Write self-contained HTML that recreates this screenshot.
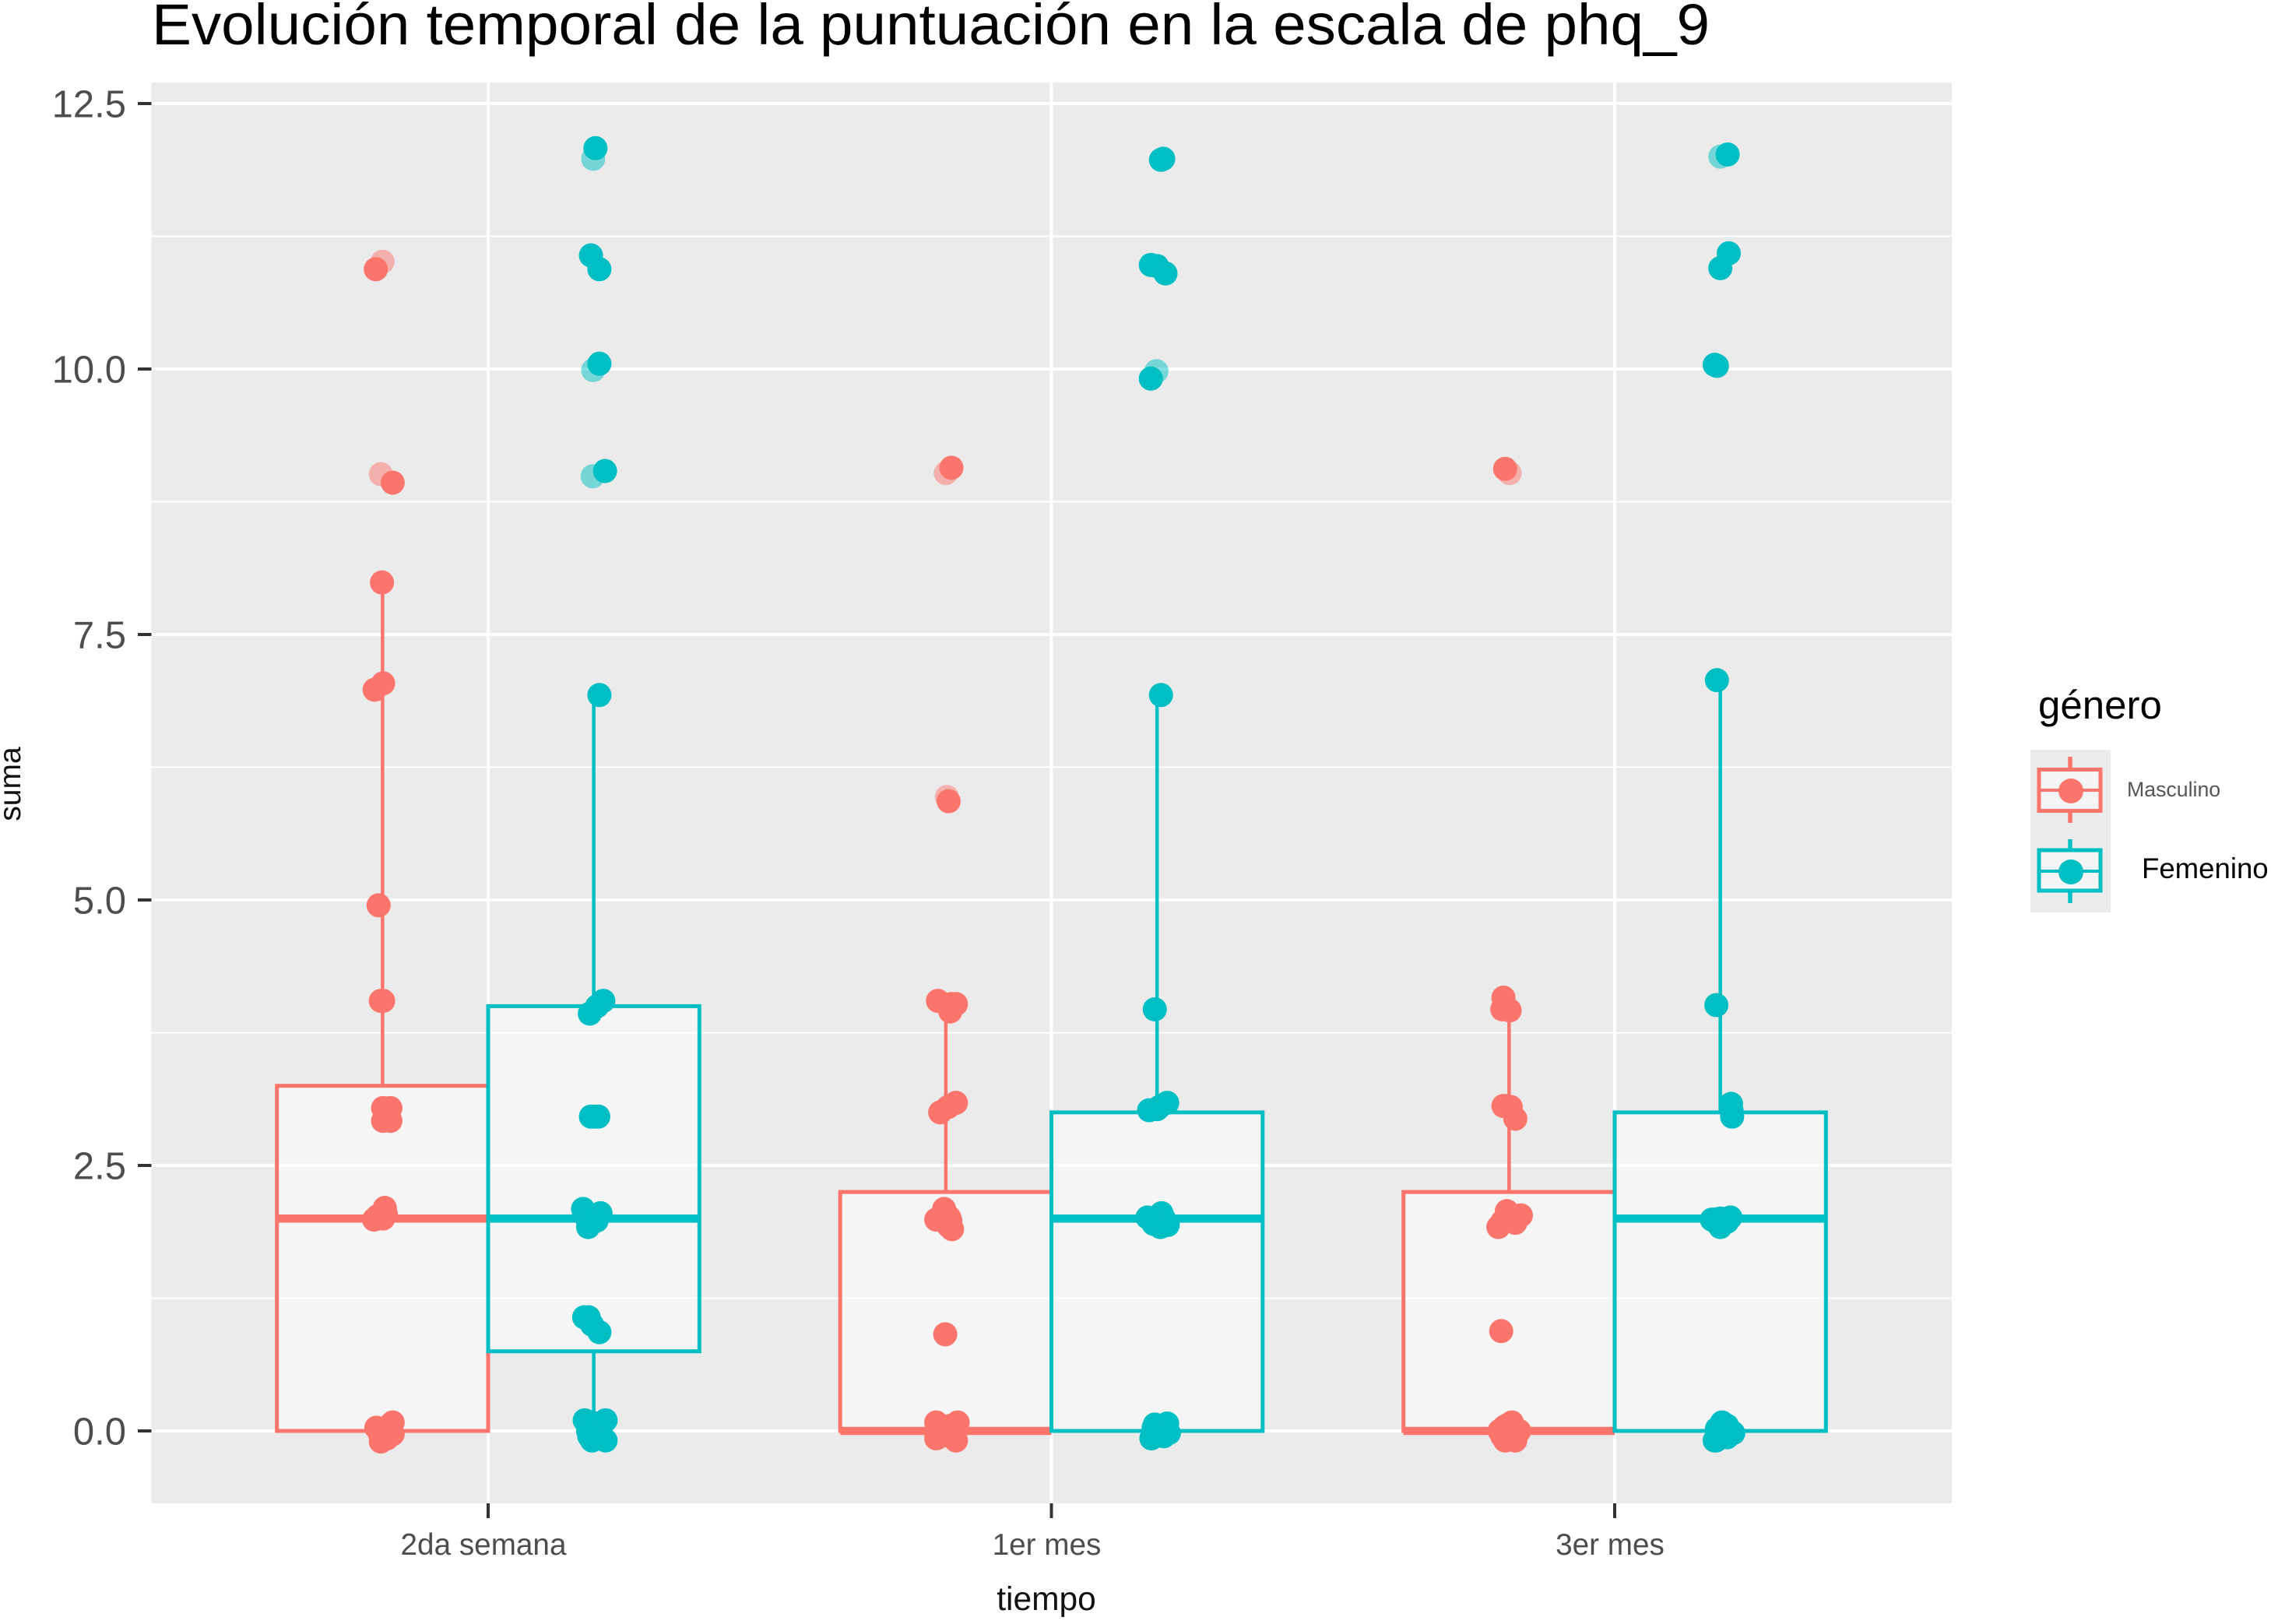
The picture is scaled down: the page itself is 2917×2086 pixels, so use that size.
<!DOCTYPE html>
<html lang="es">
<head>
<meta charset="utf-8">
<title>Evolución temporal de la puntuación en la escala de phq_9</title>
<style>
html,body{margin:0;padding:0;background:#fff;}
svg{display:block;font-family:"Liberation Sans",Arial,sans-serif;}
</style>
</head>
<body>
<svg id="chart" xmlns="http://www.w3.org/2000/svg" width="2917" height="2086" viewBox="0 0 2917 2086">
  <rect x="0" y="0" width="2917" height="2086" fill="#ffffff"/>
  <text x="195" y="57" font-size="74" textLength="2001" lengthAdjust="spacingAndGlyphs" fill="#000">Evolución temporal de la puntuación en la escala de phq_9</text>
  <rect x="194.5" y="106" width="2312.5" height="1825" fill="#ebebeb"/>
  <g id="grid"></g>
  <g id="axes"></g>
  <g id="boxes"></g>
  <g id="points"></g>
  <text x="1344" y="2068" font-size="42.5" text-anchor="middle" fill="#111">tiempo</text>
  <text transform="translate(26,1007) rotate(-90)" font-size="39" text-anchor="middle" fill="#111">suma</text>

  <g>
    <text x="2618" y="923" font-size="51" fill="#000">género</text>
    <rect x="2608" y="963" width="103" height="209" fill="#ebebeb"/>
    <g>
      <line x1="2659" x2="2659" y1="972" y2="1057" stroke="#fb756d" stroke-width="5.5"/>
      <rect x="2619" y="988.5" width="79" height="53" fill="#f5f5f5" stroke="#fb756d" stroke-width="5"/>
      <line x1="2619" x2="2698" y1="1015" y2="1015" stroke="#fb756d" stroke-width="4"/>
      <circle cx="2660" cy="1016" r="16" fill="#fb756d"/>
      <text x="2732" y="1023" font-size="26.7" fill="#555">Masculino</text>
    </g>
    <g>
      <line x1="2659" x2="2659" y1="1078" y2="1160" stroke="#00bfc4" stroke-width="5.5"/>
      <rect x="2619" y="1092" width="79" height="52" fill="#f5f5f5" stroke="#00bfc4" stroke-width="5"/>
      <line x1="2619" x2="2698" y1="1119" y2="1119" stroke="#00bfc4" stroke-width="4"/>
      <circle cx="2660" cy="1120" r="16" fill="#00bfc4"/>
      <text x="2751" y="1128" font-size="36.6" fill="#000">Femenino</text>
    </g>
  </g>
</svg>
<script>
const categories = ['2da semana', '1er mes', '3er mes'];
const yMajorTicks = [0, 2.5, 5, 7.5, 10, 12.5];
const yTickLabels = ['0.0', '2.5', '5.0', '7.5', '10.0', '12.5'];
const yMinorTicks = [1.25, 3.75, 6.25, 8.75, 11.25];

const q1Masculino = [0, 0, 0];
const medianMasculino = [2, 0, 0];
const q3Masculino = [3.25, 2.25, 2.25];
const whiskerLowMasculino = [0, 0, 0];
const whiskerHighMasculino = [8, 4, 4];

const q1Femenino = [0.75, 0, 0];
const medianFemenino = [2, 2, 2];
const q3Femenino = [4, 3, 3];
const whiskerLowFemenino = [0, 0, 0];
const whiskerHighFemenino = [7, 7, 7];

const sumaMasculino = [
  [10.94, 8.93, 7.99, 6.98, 7.04, 4.95, 4.05, 4.05, 3.04, 3.04, 2.92, 2.92, 1.99, 2.04, 2.10, 2.00, 0.08, 0.03, -0.10, -0.03, 0.02, 2.98, 2.03, 2.04, 2.02, 0, -0.04, -0.07, 0.05],
  [9.07, 5.93, 4.05, 4.02, 3.95, 3.09, 3.00, 2.09, 1.99, 1.90, 2.01, 0.91, 0.08, 0.08, -0.07, -0.09, 0, 4.00, 4.02, 2.00, 2.02, 1.98, 1.93, 0.04, -0.04, 0, 0, 0.05, -0.05, 0.05, -0.05, 3.05],
  [9.06, 4.08, 3.97, 3.96, 3.06, 3.05, 2.94, 2.07, 2.03, 1.92, 1.96, 0.94, 0.06, 0, 0, -0.09, -0.09, 3.06, 1.98, 2.00, 2.00, 1.97, 0, 0.04, 0.04, -0.05, -0.05, -0.05, 0.08]
];
const jitterMasculino = [
  [-0.012, 0.018, -0.001, -0.014, 0.001, -0.007, -0.003, 0.001, 0.001, 0.014, 0.001, 0.014, -0.015, -0.003, 0.004, 0.001, 0.018, -0.011, -0.003, 0.018, 0.004, 0.007, -0.006, 0.006, -0.009, 0.008, -0.004, 0.008, 0.012],
  [0.010, 0.005, -0.014, 0.018, 0.008, 0.018, -0.010, -0.003, -0.017, 0.011, 0.006, -0.001, -0.017, 0.021, -0.017, 0.018, 0.002, 0.005, 0.010, 0, -0.008, 0.008, 0.005, 0, 0, 0.012, -0.010, 0.010, 0.010, -0.010, -0.010, 0.004],
  [-0.007, -0.010, -0.012, 0.001, -0.010, 0.003, 0.011, -0.004, 0.021, -0.019, 0.011, -0.014, -0.001, -0.017, 0.018, 0.011, -0.007, -0.004, -0.005, 0.005, 0.012, -0.012, 0.003, 0.008, -0.008, 0.003, 0.012, -0.012, 0.005]
];
const faintSumaMasculino = [[11.01, 9.01], [9.02, 5.97], [9.02]];
const faintJitterMasculino = [[0, -0.003], [0, 0.002], [0.001]];

const sumaFemenino = [
  [12.08, 11.07, 10.94, 10.05, 9.04, 6.93, 4.05, 3.93, 4.00, 2.96, 2.96, 2.09, 2.05, 1.92, 2.03, 1.07, 1.07, 0.93, 0.10, 0.10, -0.09, -0.09, 0.02, 2.00, 2.00, 1.98, 1.95, 0, 0, 0.07, -0.07, -0.05, 1.00, 2.96],
  [11.97, 11.98, 10.98, 10.97, 10.90, 9.91, 6.93, 3.97, 3.09, 3.02, 2.01, 2.05, 1.94, 1.92, 0.07, -0.07, 0.06, -0.02, 3.03, 3.05, 1.98, 2.00, 1.95, 1.97, 2.00, 0, 0.04, 0.03, -0.05, -0.05],
  [12.02, 11.09, 10.95, 10.04, 10.03, 7.07, 4.01, 3.08, 2.96, 1.99, 1.99, 2.01, 1.92, 0.08, -0.02, -0.09, -0.04, 3.02, 2.00, 1.98, 1.97, 1.96, 0.02, 0.05, -0.05, 0.02, -0.06, -0.09]
];
const jitterFemenino = [
  [0.003, -0.005, 0.010, 0.010, 0.020, 0.010, 0.017, -0.007, 0.006, -0.005, 0.008, -0.019, 0.012, -0.010, -0.007, -0.017, -0.009, 0.010, -0.016, 0.021, -0.003, 0.021, 0.002, 0, -0.012, 0.005, -0.005, 0.010, -0.010, 0.005, 0.005, -0.008, -0.003, 0.001],
  [0.007, 0.011, -0.011, 0, 0.015, -0.011, 0.007, -0.004, 0.018, -0.014, -0.017, 0.008, 0.019, 0.006, 0.018, -0.010, -0.004, 0.021, 0, 0.004, 0, 0.012, -0.006, 0.010, -0.010, 0.005, 0.012, -0.006, 0.012, -0.008],
  [0.013, 0.015, 0, -0.010, -0.006, -0.006, -0.007, 0.019, 0.021, -0.015, -0.010, 0.018, 0, 0.003, 0.023, -0.010, 0.008, 0.020, 0, 0.006, 0.012, -0.006, 0.008, 0.012, 0, -0.006, 0.012, -0.008]
];
const faintSumaFemenino = [[11.98, 9.99, 8.99], [9.98], [12.00]];
const faintJitterFemenino = [[-0.001, -0.001, -0.002], [-0.001], [0]];

const COLOR_M = '#fb756d';
const COLOR_F = '#00bfc4';
const NS = 'http://www.w3.org/2000/svg';
const xScale = function (v) { return 627 + 723.5 * v; };
const yScale = function (v) { return 1838 - 136.4 * v; };
const PANEL = { left: 194.5, right: 2507, top: 106, bottom: 1931 };
const DODGE = 0.1875;
const HALF_BOX = 0.1875;

function mk(parent, tag, attrs, text) {
  const el = document.createElementNS(NS, tag);
  Object.keys(attrs).forEach(function (k) { el.setAttribute(k, attrs[k]); });
  if (text !== undefined) el.textContent = text;
  parent.appendChild(el);
  return el;
}

const grid = document.getElementById('grid');
const axes = document.getElementById('axes');
const boxes = document.getElementById('boxes');
const pointsLayer = document.getElementById('points');

yMinorTicks.forEach(function (v) {
  const el = mk(grid, 'line', { x1: PANEL.left, x2: PANEL.right, y1: yScale(v), y2: yScale(v), stroke: '#fff', 'stroke-width': 2 });
  
  
});
yMajorTicks.forEach(function (v, i) {
  const line = mk(grid, 'line', { x1: PANEL.left, x2: PANEL.right, y1: yScale(v), y2: yScale(v), stroke: '#fff', 'stroke-width': 4 });
  
  
  const tick = mk(axes, 'line', { x1: 177, x2: PANEL.left, y1: yScale(v), y2: yScale(v), stroke: '#333', 'stroke-width': 4 });
  
  
  const label = mk(axes, 'text', { x: 162, y: yScale(v) + 17.5, 'font-size': 49, 'text-anchor': 'end', fill: '#4d4d4d' }, yTickLabels[i]);
  
  
});
categories.forEach(function (c, i) {
  const line = mk(grid, 'line', { x1: xScale(i), x2: xScale(i), y1: PANEL.top, y2: PANEL.bottom, stroke: '#fff', 'stroke-width': 4 });
  
  
  const tick = mk(axes, 'line', { x1: xScale(i), x2: xScale(i), y1: PANEL.bottom, y2: 1950, stroke: '#333', 'stroke-width': 4 });
  
  
  const label = mk(axes, 'text', { x: xScale(i) - 6, y: 1997, 'font-size': 38.7, 'text-anchor': 'middle', fill: '#4d4d4d' }, c);
  
  
});

function drawBox(i, sign, color, q1, med, q3, lo, hi) {
  const cx = i + sign * DODGE;
  const left = xScale(cx - HALF_BOX);
  const right = xScale(cx + HALF_BOX);
  const upper = mk(boxes, 'line', { x1: xScale(cx), x2: xScale(cx), y1: yScale(q3), y2: yScale(hi), stroke: color, 'stroke-width': 4.5 });
  
  
  const lower = mk(boxes, 'line', { x1: xScale(cx), x2: xScale(cx), y1: yScale(q1), y2: yScale(lo), stroke: color, 'stroke-width': 4.5 });
  
  
  const rect = mk(boxes, 'rect', { x: left, y: yScale(q3), width: right - left, height: yScale(q1) - yScale(q3), fill: '#ffffff', 'fill-opacity': 0.5, stroke: color, 'stroke-width': 5 });
  
  
  const median = mk(boxes, 'line', { x1: left, x2: right, y1: yScale(med), y2: yScale(med), stroke: color, 'stroke-width': 10.5 });
  
  
}

function drawPoints(i, sign, color, jitter, suma, opacity) {
  const cx = i + sign * DODGE;
  suma.forEach(function (v, k) {
    const p = mk(pointsLayer, 'circle', { cx: xScale(cx + jitter[k]), cy: yScale(v), r: 15.5, fill: color, 'fill-opacity': opacity });
    
    
  });
}

categories.forEach(function (c, i) {
  drawBox(i, -1, COLOR_M, q1Masculino[i], medianMasculino[i], q3Masculino[i], whiskerLowMasculino[i], whiskerHighMasculino[i]);
  drawBox(i, 1, COLOR_F, q1Femenino[i], medianFemenino[i], q3Femenino[i], whiskerLowFemenino[i], whiskerHighFemenino[i]);
});
categories.forEach(function (c, i) {
  drawPoints(i, -1, COLOR_M, faintJitterMasculino[i], faintSumaMasculino[i], 0.5);
  drawPoints(i, 1, COLOR_F, faintJitterFemenino[i], faintSumaFemenino[i], 0.5);
  drawPoints(i, -1, COLOR_M, jitterMasculino[i], sumaMasculino[i], 1);
  drawPoints(i, 1, COLOR_F, jitterFemenino[i], sumaFemenino[i], 1);
});
</script>
</body>
</html>
